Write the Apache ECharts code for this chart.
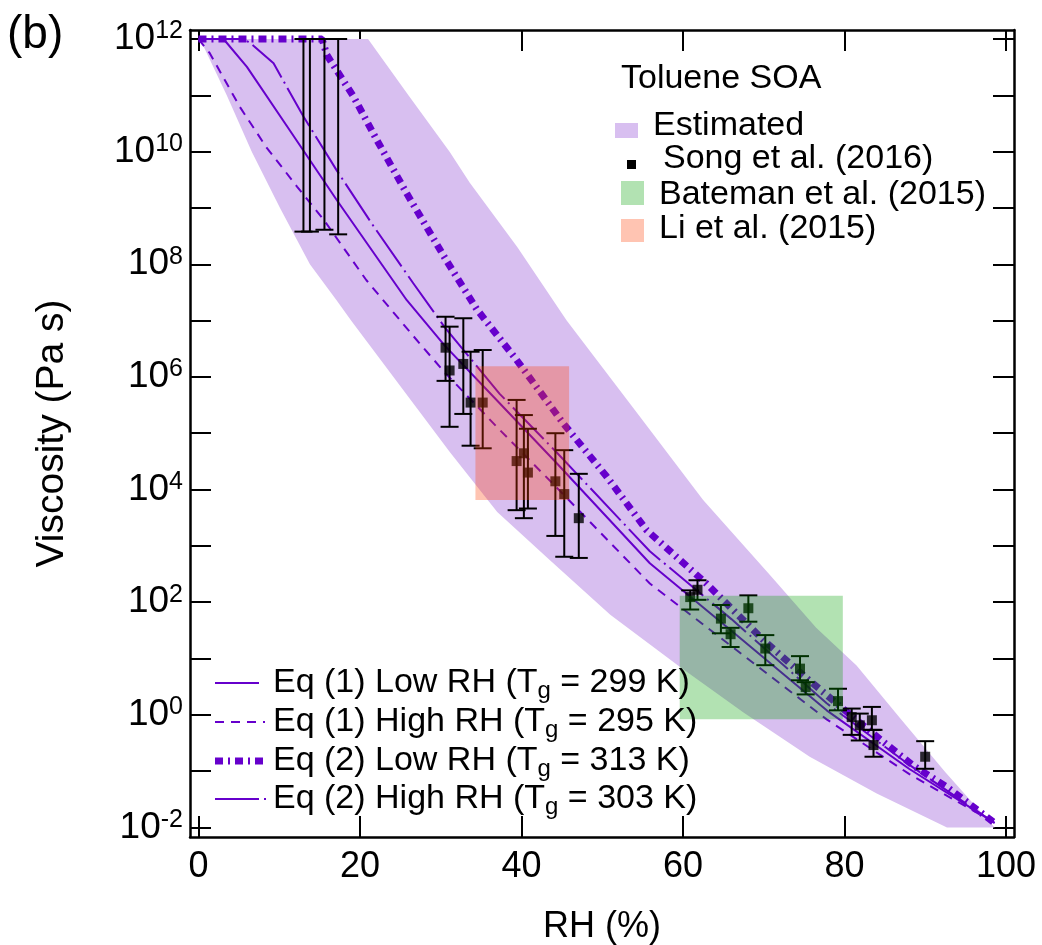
<!DOCTYPE html>
<html>
<head>
<meta charset="utf-8">
<title>Toluene SOA viscosity</title>
<script src="https://cdn.jsdelivr.net/npm/echarts@6/dist/echarts.min.js"></script>
<style>
  html, body { margin: 0; padding: 0; background: #fff; }
  #chart { width: 1042px; height: 945px; }
</style>
</head>
<body>
<div id="chart"></div>
<script>
var FONT = "'Liberation Sans', Arial, Helvetica, sans-serif";
var PURPLE = '#6600cc';
var BAND = '#d8bff0';
var LI_COLOR = 'rgba(255,60,0,0.3)';
var BATEMAN_COLOR = 'rgba(0,160,0,0.3)';

// axis ticks
var xTicks = [0, 20, 40, 60, 80, 100];
var yTicks = [1e-2, 1e-1, 1e0, 1e1, 1e2, 1e3, 1e4, 1e5, 1e6, 1e7, 1e8, 1e9, 1e10, 1e11, 1e12];
var yLabelTicks = [1e-2, 1e0, 1e2, 1e4, 1e6, 1e8, 1e10, 1e12];

// estimated range (shaded band)
var bandUpperRH = [0.2, 21, 26, 31.1, 33.6, 39.5, 45.6, 54.7, 62.5, 70.8, 76.5, 81.5, 86.9, 92.5, 98.6];
var bandUpperVisc = [1e12, 1e12, 1e11, 1e10, 2.8e9, 2.0e8, 1.0e7, 1.95e5, 6.5e3, 300, 35, 7.5, 0.87, 0.095, 0.01];
var bandLowerRH = [0.2, 3.5, 6.6, 10.1, 13.8, 17.1, 18.9, 24.5, 31.1, 37, 43.5, 51, 59.6, 67.5, 75.7, 84, 92.7, 98.6];
var bandLowerVisc = [1e12, 1e11, 1e10, 1e9, 1e8, 2.3e7, 1e7, 8.5e5, 4.7e4, 4.0e3, 560, 60, 7.1, 1.1, 0.18, 0.04, 0.01, 0.01];

// Eq (1) Low RH (Tg = 299 K)
var eq1LowRH = [0, 3.1, 6.0, 11.3, 17.1, 25.8, 30.5, 37.3, 44.4, 55.9, 66, 77.8, 88, 98.6];
var eq1LowVisc = [1e12, 1e12, 3.2e11, 2.4e10, 1.4e9, 2.3e7, 3.6e6, 3.4e5, 2.9e4, 490, 31, 1.2, 0.11, 0.012];
// Eq (1) High RH (Tg = 295 K)
var eq1HighRH = [0, 0.2, 1.4, 5.1, 8.4, 12.2, 15.5, 20.8, 25, 27.4, 30.5, 37.3, 44.4, 55.9, 66, 77.8, 88, 98.6];
var eq1HighVisc = [1e12, 1e12, 5.6e11, 6.3e10, 1.2e10, 2.4e9, 6.2e8, 5.2e7, 1.0e7, 3.9e6, 1.2e6, 1.15e5, 1.07e4, 214, 16.6, 0.83, 0.089, 0.012];
// Eq (2) Low RH (Tg = 313 K)
var eq2LowRH = [0, 15.3, 15.9, 19.2, 22.1, 25.8, 30.7, 34.45, 39.4, 45.2, 50.55, 55.5, 62.9, 70, 75.3, 80.9, 84.6, 88.5, 92.7, 98.6];
var eq2LowVisc = [1e12, 1e12, 5.2e11, 9.5e10, 1.6e10, 1.8e9, 1.17e8, 1.6e7, 2.0e6, 1.48e5, 1.7e4, 1.9e3, 214, 21, 4.5, 0.95, 0.35, 0.126, 0.052, 0.012];
// Eq (2) High RH (Tg = 303 K)
var eq2HighRH = [0, 5.6, 6.4, 9.3, 13, 17.1, 21.7, 26.6, 30.5, 37.3, 44.4, 55.9, 66, 77.8, 88, 98.6];
var eq2HighVisc = [1e12, 1e12, 8.5e11, 3.7e11, 4.2e10, 4.7e9, 4.7e8, 4.6e7, 7.6e6, 5.0e5, 4.5e4, 800, 50, 1.6, 0.13, 0.012];

// Song et al. (2016): measured points with ranges
var songRH = [30.6, 31.1, 32.8, 33.7, 35.2, 39.4, 40.3, 40.8, 44.2, 45.3, 47.1, 60.9, 61.8, 64.7, 65.9, 68.1, 70.2, 74.5, 75.2, 79.2, 80.9, 81.9, 83.4, 83.6, 90.0];
var songVisc = [3.3e6, 1.3e6, 1.7e6, 3.5e5, 3.5e5, 3.2e4, 4.4e4, 2.0e4, 1.4e4, 8.3e3, 3.1e3, 123, 166, 51, 27, 78, 15, 6.6, 3.1, 1.75, 0.91, 0.65, 0.8, 0.29, 0.18];
var songHigh = [1.17e7, 7.8e6, 1.1e7, 2.8e6, 3.0e6, 3.9e5, 2.1e5, 1.2e5, 1.0e5, 5.0e4, 1.9e4, 162, 245, 89, 35, 132, 26, 11, 3.8, 2.9, 1.29, 1.05, 1.38, 0.54, 0.34];
var songLow = [8.5e5, 1.3e5, 2.2e5, 6.0e4, 5.4e4, 4.3e3, 3.1e3, 4.6e3, 1.5e3, 640, 610, 74, 110, 28, 16, 45, 7.6, 4.1, 2.3, 1.2, 0.44, 0.35, 0.54, 0.18, 0.11];
// Song et al. (2016): ranges at low RH (no point shown)
var limitRH = [13.0, 13.8, 15.6, 17.3];
var limitLow = [3.8e8, 3.8e8, 4.1e8, 3.4e8];
var limitHigh = [1e12, 1e12, 1e12, 1e12];

// Bateman et al. (2015) and Li et al. (2015) ranges
var batemanRH = [59.6, 79.8];
var batemanVisc = [0.83, 130];
var liRH = [34.3, 45.9];
var liVisc = [6.5e3, 1.55e6];

function pairs(xs, ys) {
  return xs.map(function (x, i) { return [x, ys[i]]; });
}

function errorBar(params, api) {
  var x = api.value(0);
  var lo = api.coord([x, api.value(1)]);
  var hi = api.coord([x, api.value(2)]);
  var h = 9;
  function seg(x1, y1, x2, y2) {
    return { type: 'line', shape: { x1: x1, y1: y1, x2: x2, y2: y2 }, style: { stroke: '#000', lineWidth: 2 } };
  }
  return {
    type: 'group',
    children: [
      seg(lo[0], lo[1], hi[0], hi[1]),
      seg(lo[0] - h, lo[1], lo[0] + h, lo[1]),
      seg(hi[0] - h, hi[1], hi[0] + h, hi[1])
    ]
  };
}

function boxRenderer(color) {
  return function (params, api) {
    var p0 = api.coord([api.value(0), api.value(3)]);
    var p1 = api.coord([api.value(2), api.value(1)]);
    return {
      type: 'rect',
      shape: { x: p0[0], y: p0[1], width: p1[0] - p0[0], height: p1[1] - p0[1] },
      style: { fill: color }
    };
  };
}

function bandRenderer(params, api) {
  var pts = [];
  for (var i = 0; i < bandUpperRH.length; i++) pts.push(api.coord([bandUpperRH[i], bandUpperVisc[i]]));
  for (var j = bandLowerRH.length - 1; j >= 0; j--) pts.push(api.coord([bandLowerRH[j], bandLowerVisc[j]]));
  return { type: 'polygon', shape: { points: pts }, style: { fill: BAND } };
}

function xAxisOf(pos) {
  var ax = {
    type: 'value', position: pos, min: -1.05, max: 101,
    axisLine: { show: true, onZero: false, lineStyle: { color: '#000', width: 2.5 } },
    axisTick: { show: true, inside: true, length: 21, customValues: xTicks, lineStyle: { color: '#000', width: 2 } },
    axisLabel: { show: false },
    splitLine: { show: false }
  };
  if (pos === 'bottom') {
    ax.axisLabel = { show: true, customValues: xTicks, color: '#000', fontSize: 36, fontFamily: FONT, margin: 12 };
    ax.name = 'RH (%)';
    ax.nameLocation = 'middle';
    ax.nameGap = 72;
    ax.nameTextStyle = { color: '#000', fontSize: 36, fontFamily: FONT };
  }
  return ax;
}

function yAxisOf(pos) {
  var ax = {
    type: 'log', logBase: 10, position: pos, min: 0.00676, max: 1.445e12,
    axisLine: { show: true, onZero: false, lineStyle: { color: '#000', width: 2.5 } },
    axisTick: { show: true, inside: true, length: 21, customValues: yTicks, lineStyle: { color: '#000', width: 2 } },
    axisLabel: { show: false },
    splitLine: { show: false },
    minorTick: { show: false }
  };
  if (pos === 'left') {
    ax.axisLabel = {
      show: true, customValues: yLabelTicks, margin: 7,
      formatter: function (v) { return '{b|10}{s|' + Math.round(Math.log10(v)) + '}'; },
      rich: {
        b: { fontSize: 37, fontFamily: FONT, color: '#000', lineHeight: 40 },
        s: { fontSize: 25, fontFamily: FONT, color: '#000', verticalAlign: 'top', lineHeight: 20 }
      }
    };
    ax.name = 'Viscosity (Pa s)';
    ax.nameLocation = 'middle';
    ax.nameGap = 118;
    ax.nameTextStyle = { color: '#000', fontSize: 39, fontFamily: FONT };
  }
  return ax;
}

function legendText(x, y, txt, size) {
  return { type: 'text', x: x, y: y, z: 100,
    style: { text: txt, font: size + 'px ' + FONT, fill: '#000', textAlign: 'left', textVerticalAlign: 'middle' } };
}
function tgText(x, y, pre, post) {
  return { type: 'text', x: x, y: y, z: 100,
    style: {
      text: '{a|' + pre + '}{g|g}{a|' + post + '}',
      textAlign: 'left', textVerticalAlign: 'middle',
      rich: {
        a: { fontSize: 34, fontFamily: FONT, fill: '#000', lineHeight: 40 },
        g: { fontSize: 24, fontFamily: FONT, fill: '#000', verticalAlign: 'bottom', lineHeight: 20 }
      }
    } };
}
function sample(y, x2, width, dash) {
  return { type: 'line', z: 100, shape: { x1: 215, y1: y, x2: x2, y2: y },
    style: { stroke: PURPLE, lineWidth: width, lineDash: dash || null } };
}

var chart = echarts.init(document.getElementById('chart'));

var option = {
  backgroundColor: '#fff',
  animation: false,
  grid: { left: 190, right: 28, top: 30, bottom: 108, outerBoundsMode: 'none' },
  xAxis: [xAxisOf('bottom'), xAxisOf('top')],
  yAxis: [yAxisOf('left'), yAxisOf('right')],
  series: [
    { type: 'custom', z: 1, renderItem: bandRenderer, encode: { x: 0, y: 1 }, data: [[bandUpperRH[0], bandUpperVisc[0]]], silent: true },
    { type: 'line', z: 3, data: pairs(eq1LowRH, eq1LowVisc), showSymbol: false, lineStyle: { color: PURPLE, width: 2 } },
    { type: 'line', z: 3, data: pairs(eq1HighRH, eq1HighVisc), showSymbol: false, lineStyle: { color: PURPLE, width: 2, type: [9, 7] } },
    { type: 'line', z: 3, data: pairs(eq2HighRH, eq2HighVisc), showSymbol: false, lineStyle: { color: PURPLE, width: 2, type: [44, 5, 2, 5] } },
    { type: 'line', z: 3, data: pairs(eq2LowRH, eq2LowVisc), showSymbol: false, lineStyle: { color: PURPLE, width: 7, type: [8, 5, 2, 5], cap: 'butt' } },
    { type: 'custom', z: 5, renderItem: errorBar, encode: { x: 0, y: [1, 2] },
      data: limitRH.map(function (x, i) { return [x, limitLow[i], limitHigh[i]]; }) },
    { type: 'custom', z: 5, renderItem: errorBar, encode: { x: 0, y: [1, 2] },
      data: songRH.map(function (x, i) { return [x, songLow[i], songHigh[i]]; }) },
    { type: 'scatter', z: 6, symbol: 'rect', symbolSize: 10, itemStyle: { color: '#000' }, data: pairs(songRH, songVisc) },
    { type: 'custom', z: 10, renderItem: boxRenderer(LI_COLOR), encode: { x: [0, 2], y: [1, 3] },
      data: [[liRH[0], liVisc[0], liRH[1], liVisc[1]]] },
    { type: 'custom', z: 10, renderItem: boxRenderer(BATEMAN_COLOR), encode: { x: [0, 2], y: [1, 3] },
      data: [[batemanRH[0], batemanVisc[0], batemanRH[1], batemanVisc[1]]] }
  ],
  graphic: [
    legendText(7, 35, '(b)', 46),
    legendText(621, 79, 'Toluene SOA', 34),
    { type: 'rect', z: 100, shape: { x: 615, y: 123, width: 23, height: 15 }, style: { fill: BAND } },
    legendText(653, 126, 'Estimated', 34),
    { type: 'rect', z: 100, shape: { x: 627, y: 160, width: 9, height: 9 }, style: { fill: '#000' } },
    legendText(663, 159, 'Song et al. (2016)', 34),
    { type: 'rect', z: 100, shape: { x: 621, y: 181, width: 23, height: 24 }, style: { fill: BATEMAN_COLOR } },
    legendText(659, 195, 'Bateman et al. (2015)', 34),
    { type: 'rect', z: 100, shape: { x: 621, y: 219, width: 23, height: 23 }, style: { fill: LI_COLOR } },
    legendText(659, 229, 'Li et al. (2015)', 34),
    sample(683, 259, 2),
    tgText(273, 683, 'Eq (1) Low RH (T', ' = 299 K)'),
    sample(722, 265, 2, [9, 7]),
    tgText(273, 722, 'Eq (1) High RH (T', ' = 295 K)'),
    sample(761, 268, 7, [8, 5, 2, 5]),
    tgText(273, 761, 'Eq (2) Low RH (T', ' = 313 K)'),
    sample(799, 267, 2, [44, 5, 2, 5]),
    tgText(273, 799, 'Eq (2) High RH (T', ' = 303 K)')
  ]
};

chart.setOption(option);
</script>
</body>
</html>
